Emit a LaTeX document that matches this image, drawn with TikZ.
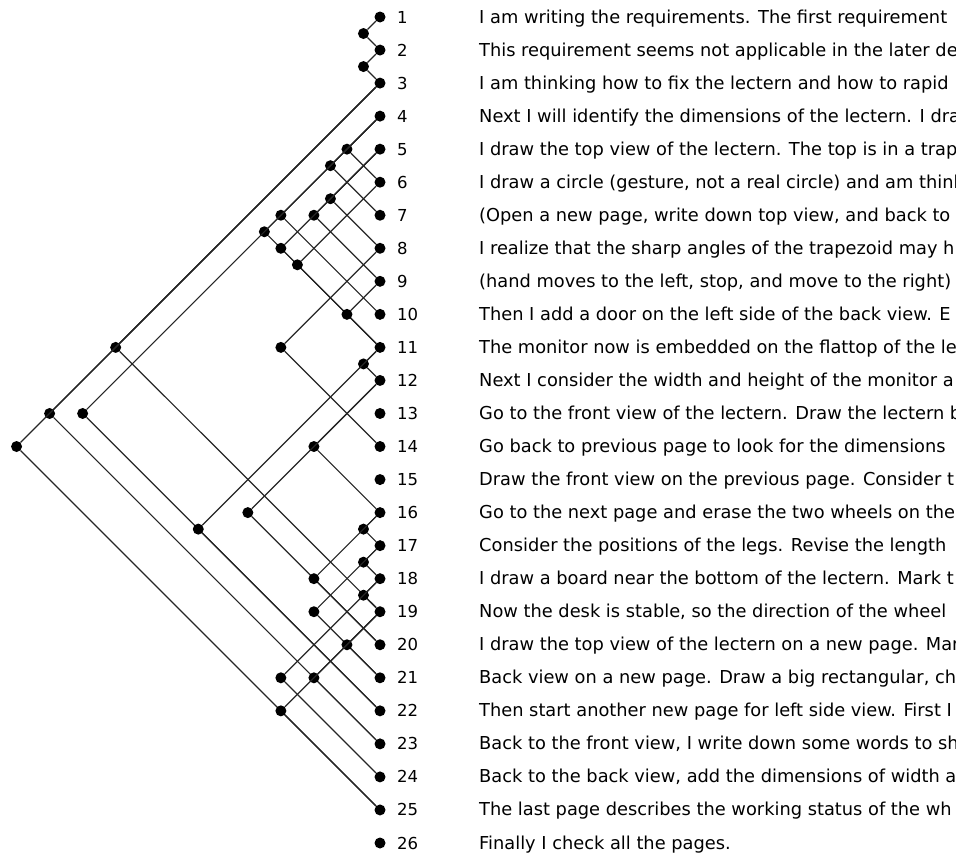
\documentclass[tikz,border=0pt]{standalone}
\usepackage{fontspec}
\setmainfont{DejaVu Sans}
\begin{document}
\begin{tikzpicture}[x=1pt,y=-1pt,
  dot/.style={circle,fill=black,inner sep=0pt,minimum size=11pt},
  link/.style={draw=black!85,line width=1.2pt},
  num/.style={anchor=base west,font=\fontsize{16.5}{16.5}\selectfont,inner sep=0pt},
  txt/.style={anchor=base west,font=\fontsize{17.8}{17.8}\selectfont,inner sep=0pt}]
\useasboundingbox (0,0) rectangle (956,854);
\foreach \i in {1,...,26} {
  \node[dot] (m\i) at (380,{17+(\i-1)*33.04}) {};
  \node[num] (n\i) at (397,{23+(\i-1)*33.04}) {\i};
}
\foreach \i/\j in {1/2,2/3,3/19,3/23,3/25,4/6,4/7,4/10,4/11,4/22,5/8,5/9,5/11,6/11,9/11,8/14,11/12,11/22,12/16,12/20,16/17,16/20,17/18,17/21,18/19,18/24,19/21,19/23,19/25} {
  \node[dot] (l\i-\j) at ({380-(\j-\i)*16.52},{17+((\i+\j)/2-1)*33.04}) {};
  \draw[link] (m\i) -- (l\i-\j) -- (m\j);
}
\foreach \i/\t in {
 1/{I am writing the requirements. The first requirement},
 2/{This requirement seems not applicable in the later de},
 3/{I am thinking how to fix the lectern and how to rapid},
 4/{Next I will identify the dimensions of the lectern. I dra},
 5/{I draw the top view of the lectern. The top is in a trap},
 6/{I draw a circle (gesture, not a real circle) and am think},
 7/{(Open a new page, write down top view, and back to},
 8/{I realize that the sharp angles of the trapezoid may h},
 9/{(hand moves to the left, stop, and move to the right)},
 10/{Then I add a door on the left side of the back view. E},
 11/{The monitor now is embedded on the flattop of the le},
 12/{Next I consider the width and height of the monitor a},
 13/{Go to the front view of the lectern. Draw the lectern b},
 14/{Go back to previous page to look for the dimensions},
 15/{Draw the front view on the previous page. Consider t},
 16/{Go to the next page and erase the two wheels on the},
 17/{Consider the positions of the legs. Revise the length},
 18/{I draw a board near the bottom of the lectern. Mark t},
 19/{Now the desk is stable, so the direction of the wheel},
 20/{I draw the top view of the lectern on a new page. Mar},
 21/{Back view on a new page. Draw a big rectangular, che},
 22/{Then start another new page for left side view. First I},
 23/{Back to the front view, I write down some words to sh},
 24/{Back to the back view, add the dimensions of width a},
 25/{The last page describes the working status of the wh},
 26/{Finally I check all the pages.}} {
  \node[txt] (t\i) at (479,{23+(\i-1)*33.04}) {\t};
}
\end{tikzpicture}
\end{document}
